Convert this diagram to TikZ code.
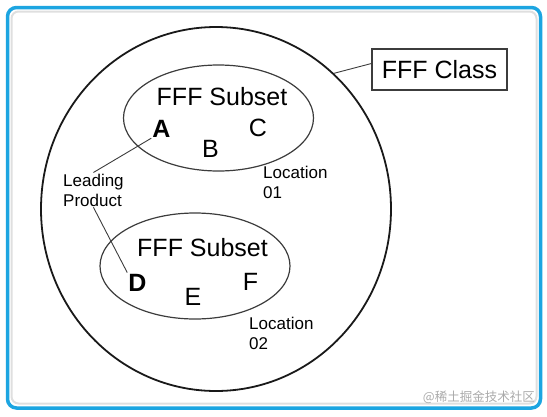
\documentclass[tikz,border=0pt]{standalone}
\usepackage{fontspec}
\setmainfont{Liberation Sans}
\newfontfamily\cjkfont{Noto Sans CJK SC}
\usetikzlibrary{shapes.geometric}
\definecolor{framebl}{RGB}{28,165,225}
\definecolor{inkgray}{RGB}{60,60,60}
\definecolor{wmgray}{RGB}{170,170,170}
\tikzset{
  bigfont/.style={font=\fontsize{25}{28}\selectfont},
  smallfont/.style={font=\fontsize{17}{20}\selectfont},
  subset/.style={draw=inkgray, line width=1.2pt, ellipse, minimum width=190pt, minimum height=106pt, inner sep=0pt},
  letter/.style={bigfont, anchor=base, inner sep=1pt},
  boldletter/.style={font=\fontsize{25}{28}\selectfont\bfseries, anchor=base, inner sep=1pt},
  label/.style={smallfont, anchor=base west, align=left, inner sep=1pt},
  leader/.style={draw=inkgray, line width=0.9pt}
}
\begin{document}
\begin{tikzpicture}[x=1pt,y=-1pt]
\useasboundingbox (0,0) rectangle (547,416);
% frame
\draw[gray!25, line width=2pt, rounded corners=7pt] (11.5,11.5) rectangle (536.5,403.5);
\draw[framebl, line width=3.5pt, rounded corners=9pt] (7.5,7.5) rectangle (540.5,408);
% big class ellipse
\node[draw=black!90, line width=1.8pt, ellipse, minimum width=350pt, minimum height=364pt, inner sep=0pt] (big) at (216,209) {};
% subsets
\node[subset] (sub1) at (218.5,118) {};
\node[subset] (sub2) at (195,266) {};
\node[bigfont, anchor=base] (t1) at (222,105) {FFF Subset};
\node[bigfont, anchor=base] (t2) at (202.5,256) {FFF Subset};
% letters
\node[boldletter] (A) at (161.5,137) {A};
\node[letter] (B) at (210.5,157) {B};
\node[letter] (C) at (258,136) {C};
\node[boldletter] (D) at (137.5,291) {D};
\node[letter] (E) at (193,305) {E};
\node[letter] (F) at (250.5,290) {F};
% labels (base anchor = last line's baseline)
\node[label] (lead) at (62,206) {Leading\\Product};
\node[label] (loc1) at (262,198) {Location\\01};
\node[label] (loc2) at (248,349) {Location\\02};
% class box
\node[draw=inkgray, line width=1.2pt, bigfont, minimum width=135pt, minimum height=41pt, inner sep=0pt] (class) at (439.5,69.5) {FFF Class};
% connectors
\draw[leader] (big.49.5) -- ([yshift=6pt]class.west);
\draw[leader] (A.south west) -- (lead.north);
\draw[leader] (lead.south) -- (D.north west);
% watermark
\node[anchor=east, text=wmgray, inner sep=0pt, font=\cjkfont\fontsize{12.5}{14}\selectfont] (wm) at (535,397) {@稀土掘金技术社区};
\end{tikzpicture}
\end{document}
